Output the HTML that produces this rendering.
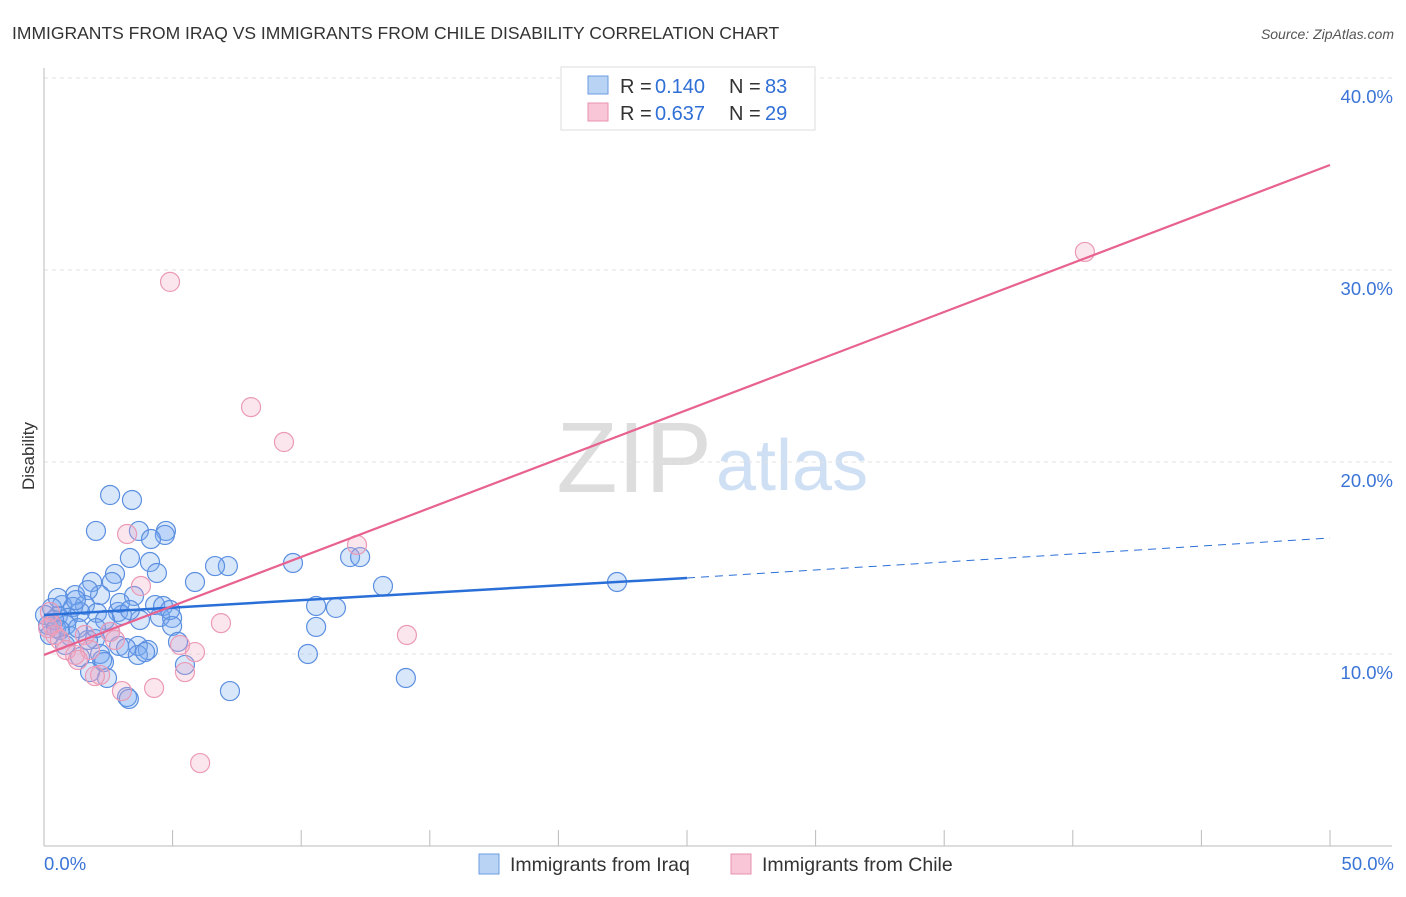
<!DOCTYPE html>
<html><head><meta charset="utf-8"><style>
body{margin:0;background:#fff;font-family:"Liberation Sans",sans-serif;}
svg text{font-family:"Liberation Sans",sans-serif;}
</style></head><body>
<svg width="1406" height="892" xmlns="http://www.w3.org/2000/svg">
<text x="12" y="39" font-size="17.5" fill="#333">IMMIGRANTS FROM IRAQ VS IMMIGRANTS FROM CHILE DISABILITY CORRELATION CHART</text>
<text x="1394" y="39" font-size="14" fill="#555" font-style="italic" text-anchor="end">Source: ZipAtlas.com</text>
<text x="712" y="492" font-size="100" fill="#ddd" text-anchor="end" font-family="Liberation Serif">ZIP</text>
<text x="716" y="490" font-size="72" fill="#cfe0f5">atlas</text>
<g id="grid"></g><g id="pts"></g><g id="lines"></g>
<text x="34" y="456" font-size="17" fill="#333" text-anchor="middle" transform="rotate(-90 34 456)">Disability</text>
<g>
<rect x="561" y="67" width="254" height="63" fill="#fff" stroke="#ddd"/>
<rect x="588" y="76" width="20" height="18" fill="#b9d3f5" stroke="#6b9be0"/>
<rect x="588" y="103" width="20" height="18" fill="#f8c6d6" stroke="#e891ae"/>
<text y="93" font-size="20" fill="#333"><tspan x="620">R =</tspan><tspan x="655" fill="#2f6fd6">0.140</tspan><tspan x="729">N =</tspan><tspan x="765" fill="#2f6fd6">83</tspan></text>
<text y="120" font-size="20" fill="#333"><tspan x="620">R =</tspan><tspan x="655" fill="#2f6fd6">0.637</tspan><tspan x="729">N =</tspan><tspan x="765" fill="#2f6fd6">29</tspan></text>
</g>
<g>
<rect x="479" y="854" width="20" height="20" fill="#b9d3f5" stroke="#6b9be0"/>
<text x="510" y="871" font-size="19.5" fill="#333">Immigrants from Iraq</text>
<rect x="731" y="854" width="20" height="20" fill="#f8c6d6" stroke="#e891ae"/>
<text x="762" y="871" font-size="19.5" fill="#333">Immigrants from Chile</text>
</g>
<text x="44" y="870" font-size="18.5" fill="#3a74d6">0.0%</text>
<text x="1394" y="870" font-size="18.5" fill="#3a74d6" text-anchor="end">50.0%</text>
</svg>
<script>
const yTicks=[10,20,30,40];
const xTicks=[0,5,10,15,20,25,30,35,40,45,50];
const iraqX=[2.57,3.42,2.02,3.69,4.74,4.70,4.16,3.34,4.12,7.15,6.65,9.68,11.90,12.29,4.39,2.76,5.87,1.87,2.64,13.18,22.28,1.21,2.18,1.71,3.50,0.70,1.59,1.13,4.32,4.63,2.88,2.06,0.31,0.54,0.93,1.40,3.03,4.51,4.98,10.58,11.35,0.16,0.47,0.86,2.57,4.98,10.58,0.23,1.01,1.98,5.21,2.92,3.65,3.19,4.04,2.18,3.65,3.93,1.40,2.26,10.26,5.48,2.33,1.79,2.45,14.07,7.23,3.23,3.30,0.62,0.39,1.71,0.82,0.04,1.24,2.95,2.37,1.32,3.73,0.54,3.34,2.02,4.90];
const iraqY=[18.28,18.02,16.41,16.41,16.41,16.20,15.99,15.00,14.79,14.58,14.58,14.74,15.05,15.05,14.22,14.17,13.75,13.75,13.75,13.54,13.75,13.07,13.07,13.33,13.02,12.55,12.55,12.45,12.55,12.50,12.19,12.14,12.40,11.98,11.88,12.19,12.03,11.93,11.88,12.50,12.40,11.51,11.35,11.51,11.15,11.46,11.41,10.99,10.94,10.78,10.63,10.42,10.42,10.31,10.21,10.00,9.95,10.10,9.84,9.69,10.00,9.43,9.58,9.06,8.75,8.75,8.07,7.76,7.66,11.25,11.77,10.73,10.47,12.03,12.81,12.66,11.77,11.35,11.77,12.92,12.29,11.35,12.29];
const chileX=[4.90,8.05,9.33,3.23,12.17,3.77,6.88,14.11,0.23,0.31,0.43,0.62,1.59,1.79,1.21,2.57,5.29,5.87,5.48,2.18,1.98,3.03,4.28,6.07,40.47,0.86,0.16,2.76,1.32];
const chileY=[29.38,22.86,21.04,16.25,15.68,13.54,11.61,10.99,12.19,11.51,10.99,10.73,10.99,10.21,9.95,11.15,10.47,10.10,9.06,8.91,8.85,8.07,8.23,4.32,30.94,10.21,11.35,10.73,9.69];
const iraqFit=[12.03,13.96,16.04];
const chileFit=[9.95,35.47];
const NS='http://www.w3.org/2000/svg';
const sx=v=>44+v/50*1286, sy=v=>846-v*19.2;
function mk(t,a,p){const e=document.createElementNS(NS,t);for(const k in a)e.setAttribute(k,a[k]);p.appendChild(e);return e;}
const g=document.getElementById('grid'),P=document.getElementById('pts'),L=document.getElementById('lines');
yTicks.forEach(t=>{const l=mk('line',{x1:44,x2:1392,y1:sy(t),y2:sy(t),stroke:'#e2e2e2','stroke-dasharray':'4,4'},g);


const tx=mk('text',{x:1393,y:sy(t)+25,'font-size':18.5,fill:'#3a74d6','text-anchor':'end'},g);tx.textContent=t.toFixed(1)+'%';

});
mk('line',{x1:44,x2:44,y1:68,y2:846,stroke:'#bbb'},g);
mk('line',{x1:44,x2:1392,y1:846,y2:846,stroke:'#bbb'},g);
xTicks.forEach(t=>{const l=mk('line',{x1:sx(t),x2:sx(t),y1:830,y2:846,stroke:'#bbb'},g);

});
iraqX.forEach((x,i)=>{const c=mk('circle',{cx:sx(x),cy:sy(iraqY[i]),r:9.5,fill:'rgba(120,170,240,0.28)',stroke:'#5b8fe0','stroke-width':1.2},P);

});
chileX.forEach((x,i)=>{const c=mk('circle',{cx:sx(x),cy:sy(chileY[i]),r:9.5,fill:'rgba(245,165,195,0.28)',stroke:'#ea9ab5','stroke-width':1.2},P);

});
let l1=mk('line',{x1:sx(0),y1:sy(iraqFit[0]),x2:sx(25),y2:sy(iraqFit[1]),stroke:'#2a6fd8','stroke-width':2.5},L);


let l2=mk('line',{x1:sx(25),y1:sy(iraqFit[1]),x2:sx(50),y2:sy(iraqFit[2]),stroke:'#2a6fd8','stroke-width':1,'stroke-dasharray':'8,6'},L);


let l3=mk('line',{x1:sx(0),y1:sy(chileFit[0]),x2:sx(50),y2:sy(chileFit[1]),stroke:'#e8628f','stroke-width':2.2},L);


</script>
</body></html>
